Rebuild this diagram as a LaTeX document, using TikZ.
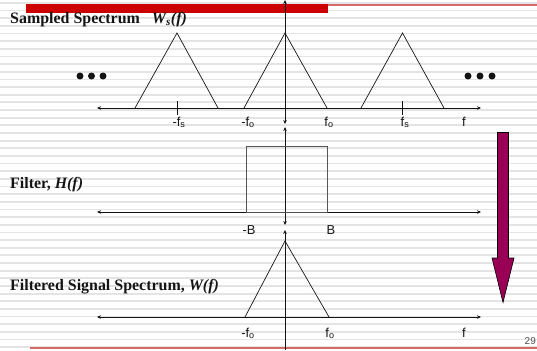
\documentclass[tikz,border=0pt]{standalone}
\usepackage{fontspec}
\setmainfont{Liberation Serif}
\setsansfont{Liberation Sans}
\usetikzlibrary{
    arrows.meta,
    positioning,
    backgrounds
}
\definecolor{ink}{RGB}{20,20,20}
\definecolor{stripe}{RGB}{228,228,228}
\definecolor{titlebar}{RGB}{204,0,0}
\definecolor{rulered}{RGB}{214,104,104}
\definecolor{plum}{RGB}{153,0,85}
\definecolor{boxline}{RGB}{85,85,85}
\tikzset{
    axis/.style={
        {Stealth[length=4bp,width=3.5bp]}-{Stealth[length=4bp,width=3.5bp]},
        draw=ink,
        line width=0.6bp
    },
    upaxis/.style={
        {Stealth[length=4bp,width=3.5bp]}-,
        draw=ink,
        line width=0.6bp
    },
    spectrum/.style={
        draw=ink,
        line width=0.7bp,
        line join=miter
    },
    passband/.style={
        draw=boxline,
        line width=0.8bp
    },
    tickmark/.style={
        draw=ink,
        line width=0.7bp
    },
    freqlabel/.style={
        font=\sffamily\fontsize{13}{14}\selectfont,
        text=ink,
        anchor=base,
        inner sep=0pt
    },
    paneltitle/.style={
        font=\bfseries\fontsize{16}{18}\selectfont,
        text=ink,
        anchor=base west,
        inner sep=0pt
    },
    moredots/.style={
        circle,
        fill=ink,
        inner sep=0pt,
        minimum size=7bp
    },
    pagenum/.style={
        font=\sffamily\fontsize{10}{11}\selectfont,
        text=ink!75,
        anchor=base east,
        inner sep=0pt
    },
    flowdown/.style={
        fill=plum,
        draw=black,
        line width=0.6bp,
        line join=miter
    }
}

\begin{document}
\begin{tikzpicture}[x=1bp, y=-1bp]
    \useasboundingbox (0,0) rectangle (537,350);

    % Lined background
    \foreach \k in {0,...,45}
        \fill[stripe] (0,\k*7.65+2) rectangle (537,\k*7.65+3.8);

    % Slide rules
    \fill[titlebar] (26,4) rectangle (328,13);
    \fill[rulered] (328,4.2) rectangle (537,6);
    \fill[rulered] (30,347) rectangle (537,348.6);

    % Sampled spectrum
    \node[paneltitle] (ttlws) at (10,23) {Sampled Spectrum\hspace{12bp}\textit{W\textsubscript{s}(f)}};
    \draw[axis] (97,108) -- (481,108);
    \draw[axis] (285,0) -- (285,124);
    \draw[spectrum] (135,108) -- (177,33) -- (218,108);
    \draw[spectrum] (244,108) -- (285,33) -- (327,108);
    \draw[spectrum] (361,108) -- (402.5,33) -- (444,108);
    \draw[tickmark] (177,101) -- (177,115);
    \draw[tickmark] (402.5,101) -- (402.5,115);
    \foreach \x [count=\i] in {80,91.5,103}
        \node[moredots] (dotl\i) at (\x,76) {};
    \foreach \x [count=\i] in {468,480,492}
        \node[moredots] (dotr\i) at (\x,76) {};
    \node[freqlabel] (mfs) at (179,126) {-f\textsubscript{s}};
    \node[freqlabel] (mfo) at (248,126) {-f\textsubscript{o}};
    \node[freqlabel] (pfo) at (329,126) {f\textsubscript{o}};
    \node[freqlabel] (pfs) at (405,126) {f\textsubscript{s}};
    \node[freqlabel] (ff) at (464,126) {f};

    % Filter
    \node[paneltitle] (ttlh) at (10,188) {Filter, \textit{H(f)}};
    \draw[axis] (97,212) -- (481,212);
    \draw[axis] (285,127) -- (285,225);
    \draw[passband] (246.5,212) rectangle (327,146.5);
    \node[freqlabel] (mb) at (249,234) {-B};
    \node[freqlabel] (pb) at (331,234) {B};

    % Filtered signal
    \node[paneltitle] (ttlw) at (10,290) {Filtered Signal Spectrum, \textit{W(f)}};
    \draw[axis] (97,317) -- (481,317);
    \draw[upaxis] (285,230) -- (285,350);
    \draw[spectrum] (245,317) -- (285,241) -- (329,317);
    \node[freqlabel] (wmfo) at (248,337) {-f\textsubscript{o}};
    \node[freqlabel] (wpfo) at (330,337) {f\textsubscript{o}};
    \node[freqlabel] (wf) at (464,337) {f};

    % Down arrow
    \path[flowdown] (497.5,132.5) -- (508.5,132.5) -- (508.5,258) -- (514,258)
        -- (503,302.5) -- (492,258) -- (497.5,258) -- cycle;

    \node[pagenum] (pg) at (536,344) {29};
\end{tikzpicture}
\end{document}
